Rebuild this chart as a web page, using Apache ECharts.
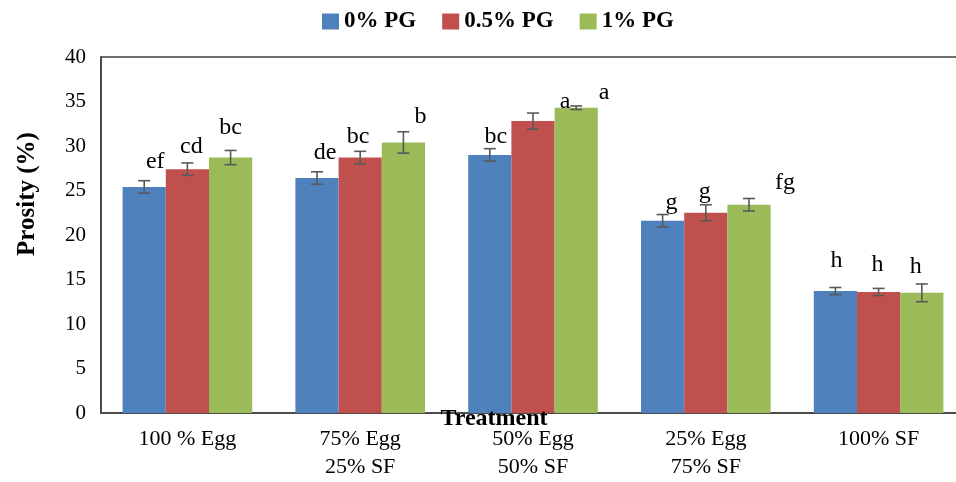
<!DOCTYPE html>
<html>
<head>
<meta charset="utf-8">
<script src="https://cdn.jsdelivr.net/npm/echarts@6/dist/echarts.min.js"></script>
<style>
html, body { margin: 0; padding: 0; background: #fff; overflow: hidden; }
#main { width: 965px; height: 482px; }
</style>
</head>
<body>
<div id="main"></div>
<script>
var dom = document.getElementById("main");
var myChart = echarts.init(dom);

var categories = ['100 % Egg', '75% Egg\n25% SF', '50% Egg\n50% SF', '25% Egg\n75% SF', '100% SF'];
var seriesNames = ['0% PG', '0.5% PG', '1% PG'];
var colors = ['#4F81BD', '#C0504D', '#9BBB59'];

var pg0 = [25.4, 26.4, 29.0, 21.6, 13.7];
var pg05 = [27.4, 28.7, 32.8, 22.5, 13.6];
var pg1 = [28.7, 30.4, 34.3, 23.4, 13.5];

var err0 = [0.7, 0.7, 0.7, 0.7, 0.4];
var err05 = [0.7, 0.7, 0.9, 0.9, 0.4];
var err1 = [0.8, 1.2, 0.2, 0.7, 1.0];

var letters0 = ['ef', 'de', 'bc', 'g', 'h'];
var letters05 = ['cd', 'bc', 'a', 'g', 'h'];
var letters1 = ['bc', 'b', 'a', 'fg', 'h'];

// label nudges in px (dx, dy of label centre from error bar top)
var letterDx = [[11, 8, 6, 9, 1], [4, -2, 32, -1, -1], [0, 17, 28, 36, -6]];
var letterDy = [[-19, -19, -12, -12, -27], [-16, -15, -11, -13, -24], [-23, -15, -13, -16, -17]];

var values = [pg0, pg05, pg1];
var errs = [err0, err05, err1];
var letters = [letters0, letters05, letters1];

var font = '"Liberation Serif", "Times New Roman", serif';

function makeErrSeries(k) {
    var d = [];
    for (var i = 0; i < categories.length; i++) {
        d.push([i, values[k][i], errs[k][i]]);
    }
    return {
        type: 'custom',
        name: seriesNames[k] + ' err',
        data: d,
        z: 10,
        renderItem: function (params, api) {
            var idx = api.value(0);
            var v = api.value(1);
            var e = api.value(2);
            var band = api.size([1, 0])[0];
            var off = (k - 1) * band * 0.25;
            var top = api.coord([idx, v + e]);
            var bot = api.coord([idx, v - e]);
            var x = top[0] + off;
            var cap = 6;
            var ls = { stroke: '#595959', lineWidth: 1.6 };
            return {
                type: 'group',
                children: [
                    { type: 'line', shape: { x1: x, y1: top[1], x2: x, y2: bot[1] }, style: ls },
                    { type: 'line', shape: { x1: x - cap, y1: top[1], x2: x + cap, y2: top[1] }, style: ls },
                    { type: 'line', shape: { x1: x - cap, y1: bot[1], x2: x + cap, y2: bot[1] }, style: ls },
                    {
                        type: 'text',
                        style: {
                            x: x + letterDx[k][idx],
                            y: top[1] + letterDy[k][idx],
                            text: letters[k][idx],
                            fill: '#000',
                            font: '24px ' + font,
                            align: 'center',
                            verticalAlign: 'middle'
                        }
                    }
                ]
            };
        },
        tooltip: { show: false }
    };
}

var series = [];
for (var k = 0; k < 3; k++) {
    series.push({
        type: 'bar',
        name: seriesNames[k],
        data: values[k],
        barGap: '0%',
        barCategoryGap: '25%',
        itemStyle: { color: colors[k] }
    });
}
for (var k2 = 0; k2 < 3; k2++) {
    series.push(makeErrSeries(k2));
}

var option = {
    animation: false,
    textStyle: { fontFamily: font },
    legend: {
        data: seriesNames,
        left: 317,
        top: 5,
        itemWidth: 17,
        itemHeight: 16,
        itemGap: 26,
        icon: 'rect',
        textStyle: { fontFamily: font, fontSize: 23, fontWeight: 'bold', color: '#000' }
    },
    grid: {
        left: 101,
        right: 0,
        top: 57,
        bottom: 69,
        show: true,
        borderColor: '#404040',
        borderWidth: 1.5
    },
    xAxis: {
        type: 'category',
        data: categories,
        axisTick: { show: false },
        axisLine: { lineStyle: { color: '#404040', width: 1.5 } },
        axisLabel: {
            fontFamily: font,
            fontSize: 22,
            color: '#000',
            margin: 12,
            lineHeight: 28
        }
    },
    yAxis: {
        type: 'value',
        min: 0,
        max: 40,
        interval: 5,
        splitLine: { show: false },
        axisTick: { show: false },
        axisLine: { show: true, lineStyle: { color: '#404040', width: 1.5 } },
        axisLabel: { fontFamily: font, fontSize: 21, color: '#000', margin: 15 }
    },
    graphic: [
        {
            type: 'text',
            x: 28,
            y: 194,
            rotation: Math.PI / 2,
            z: 100,
            style: {
                text: 'Prosity (%)',
                font: 'bold 25px ' + font,
                fill: '#000',
                align: 'center',
                verticalAlign: 'middle'
            }
        },
        {
            type: 'text',
            x: 494,
            y: 419,
            z: 100,
            style: {
                text: 'Treatment',
                font: 'bold 24px ' + font,
                fill: '#000',
                align: 'center',
                verticalAlign: 'middle'
            }
        }
    ],
    series: series
};

myChart.setOption(option);
</script>
</body>
</html>
